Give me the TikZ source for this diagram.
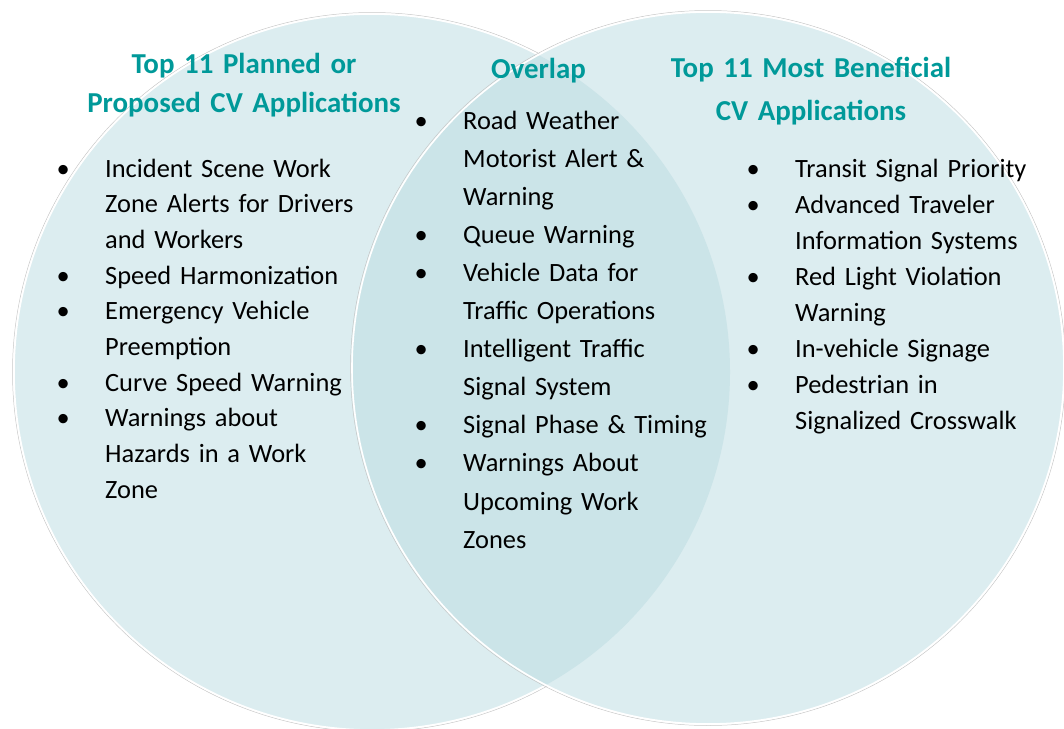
\documentclass[tikz,border=0pt]{standalone}
\usepackage{fontspec}
\setmainfont{Carlito}

\definecolor{vennlight}{RGB}{220,237,240}
\definecolor{venndark}{RGB}{203,228,232}
\definecolor{headteal}{RGB}{0,153,153}

\newcommand{\bul}{\leavevmode\llap{\makebox[0pt]{\textbullet}\hspace{42pt}}}

\tikzset{
  headtext/.style={text=headteal, align=center, text width=420pt, inner sep=0pt, anchor=base},
  listtext/.style={align=left, inner sep=0pt, anchor=base west},
  vennedge/.style={draw=white, line width=1.6pt},
  vennshade/.style={draw=black!22, line width=0.5pt},
}

\begin{document}
\begin{tikzpicture}[x=1pt, y=-1pt]
    \useasboundingbox (0,0) rectangle (1064,728);

    % Circles
    \coordinate (lc) at (372,372);
    \coordinate (rc) at (708,368);
    \fill[vennlight] (lc) circle (358);
    \draw[vennshade] (lc) circle (359.5);
    \draw[vennedge] (lc) circle (358);
    \fill[vennlight] (rc) circle (356);
    \begin{scope}
        \clip (lc) circle (358);
        \fill[venndark] (rc) circle (356);
    \end{scope}
    \draw[vennshade] (rc) circle (357.5);
    \draw[vennedge] (rc) circle (356);

    % Headings
    \node[headtext, font=\bfseries\fontsize{28.9}{39.5}\selectfont] (planned) at (244,73)
        {Top 11 Planned or\\Proposed CV Applications};
    \node[headtext, font=\bfseries\fontsize{28.9}{39.5}\selectfont] (overlap) at (538.5,78)
        {Overlap};
    \node[headtext, font=\bfseries\fontsize{28.9}{43}\selectfont] (beneficial) at (811,77)
        {Top 11 Most Beneficial\\CV Applications};

    % Lists
    \node[listtext, text width=290pt, font=\fontsize{26.4}{35.7}\selectfont] (plannedlist) at (105,177)
        {\bul Incident Scene Work\\
         Zone Alerts for Drivers\\
         and Workers\\
         \bul Speed Harmonization\\
         \bul Emergency Vehicle\\
         Preemption\\
         \bul Curve Speed Warning\\
         \bul Warnings about\\
         Hazards in a Work\\
         Zone};
    \node[listtext, text width=290pt, font=\fontsize{26.4}{38.1}\selectfont] (overlaplist) at (463,129)
        {\bul Road Weather\\
         Motorist Alert \&\\
         Warning\\
         \bul Queue Warning\\
         \bul Vehicle Data for\\
         Traffic Operations\\
         \bul Intelligent Traffic\\
         Signal System\\
         \bul Signal Phase \& Timing\\
         \bul Warnings About\\
         Upcoming Work\\
         Zones};
    \node[listtext, text width=265pt, font=\fontsize{26.4}{36}\selectfont] (beneficiallist) at (795,177)
        {\bul Transit Signal Priority\\
         \bul Advanced Traveler\\
         Information Systems\\
         \bul Red Light Violation\\
         Warning\\
         \bul In-vehicle Signage\\
         \bul Pedestrian in\\
         Signalized Crosswalk};
\end{tikzpicture}
\end{document}
